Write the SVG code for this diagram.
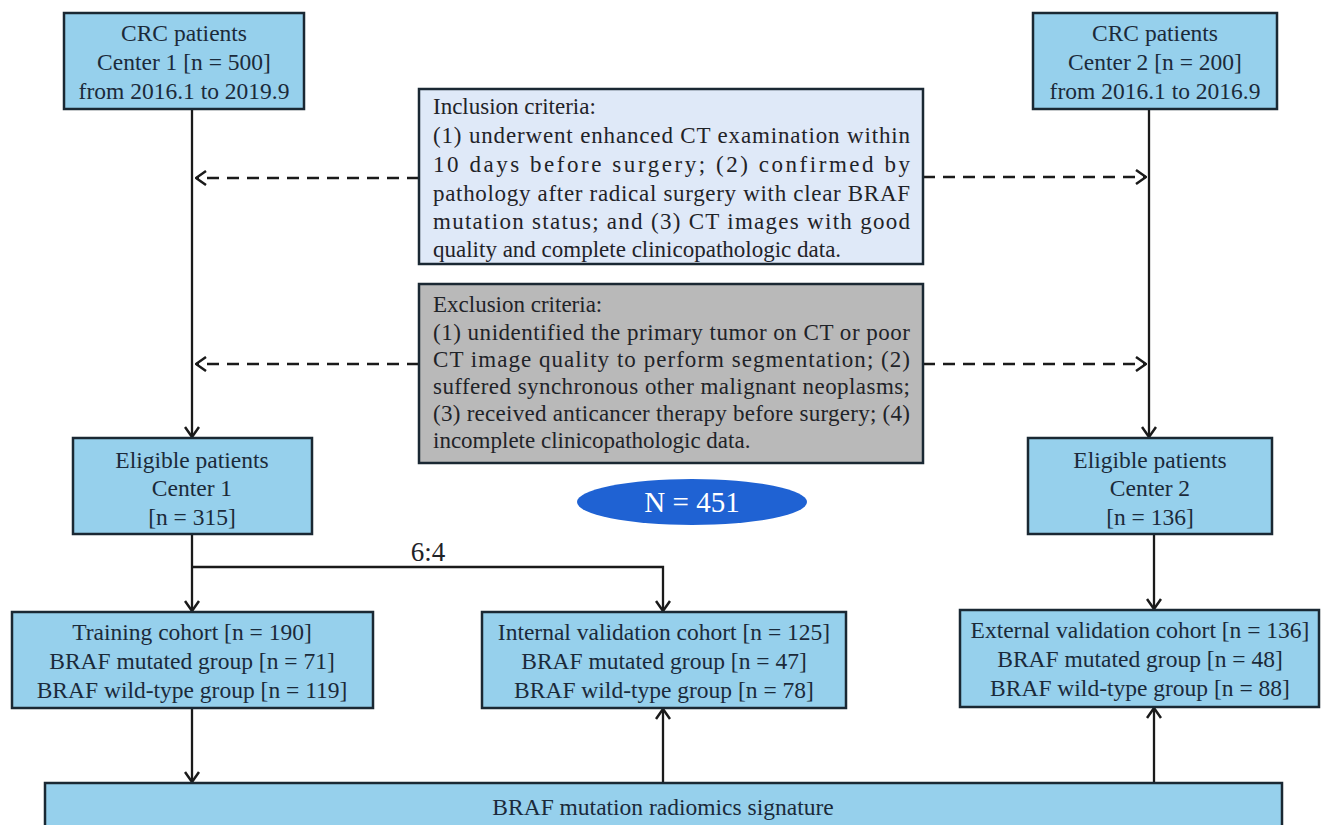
<svg xmlns="http://www.w3.org/2000/svg" width="1325" height="825" viewBox="0 0 1325 825">
<defs>
<marker id="arr" viewBox="0 0 12 16" refX="11" refY="8" markerWidth="12" markerHeight="16" markerUnits="userSpaceOnUse" orient="auto">
<path d="M1,1 L11,8 L1,15" fill="none" stroke="#1a1a1a" stroke-width="2.5"/>
</marker>
<style>
.box{fill:#96d0ec;stroke:#1a2833;stroke-width:2.5}
.inc{fill:#dfe9f8;stroke:#1a2833;stroke-width:2.5}
.exc{fill:#b9b9b9;stroke:#1a2833;stroke-width:2.5}
.t{font-family:"Liberation Serif","Times New Roman",serif;font-size:23.5px;fill:#1b2a3a;text-anchor:middle}
.l{font-family:"Liberation Serif","Times New Roman",serif;font-size:23px;fill:#1f2328}
.ln{fill:none;stroke:#1a1a1a;stroke-width:2.3}
.dl{fill:none;stroke:#1a1a1a;stroke-width:2.6;stroke-dasharray:12 8}
</style>
</defs>
<rect width="1325" height="825" fill="#ffffff"/>
<g id="connectors">
<line class="ln" x1="192" y1="109" x2="192" y2="437" marker-end="url(#arr)"/>
<line class="ln" x1="1149" y1="109" x2="1149" y2="437" marker-end="url(#arr)"/>
<line class="dl" x1="419" y1="178" x2="196" y2="178" marker-end="url(#arr)"/>
<line class="dl" x1="923" y1="177" x2="1146" y2="177" marker-end="url(#arr)"/>
<line class="dl" x1="419" y1="364" x2="196" y2="364" marker-end="url(#arr)"/>
<line class="dl" x1="923" y1="364" x2="1146" y2="364" marker-end="url(#arr)"/>
<line class="ln" x1="192" y1="534" x2="192" y2="611" marker-end="url(#arr)"/>
<polyline class="ln" points="192,567 663,567 663,611" marker-end="url(#arr)"/>
<line class="ln" x1="1154" y1="534" x2="1154" y2="609" marker-end="url(#arr)"/>
<line class="ln" x1="192" y1="708" x2="192" y2="782" marker-end="url(#arr)"/>
<line class="ln" x1="663" y1="783" x2="663" y2="709" marker-end="url(#arr)"/>
<line class="ln" x1="1154" y1="783" x2="1154" y2="708" marker-end="url(#arr)"/>
<text x="428" y="561" font-family="Liberation Serif, Times New Roman, serif" font-size="27" fill="#1f2328" text-anchor="middle">6:4</text>
</g>
<g id="crc1">
<rect class="box" x="64" y="13" width="240" height="96"/>
<text class="t" x="184" y="41">CRC patients</text>
<text class="t" x="184" y="70">Center 1 [n = 500]</text>
<text class="t" x="184" y="99">from 2016.1 to 2019.9</text>
</g>
<g id="crc2">
<rect class="box" x="1033" y="13" width="244" height="96"/>
<text class="t" x="1155" y="41">CRC patients</text>
<text class="t" x="1155" y="70">Center 2 [n = 200]</text>
<text class="t" x="1155" y="99">from 2016.1 to 2016.9</text>
</g>
<g id="inclusion">
<rect class="inc" x="419" y="89" width="504" height="175"/>
<text class="l" x="433" y="114">Inclusion criteria:</text>
<text class="l" x="433" y="143" textLength="477" lengthAdjust="spacing">(1) underwent enhanced CT examination within</text>
<text class="l" x="433" y="172" textLength="477" lengthAdjust="spacing">10 days before surgery; (2) confirmed by</text>
<text class="l" x="433" y="201" textLength="477" lengthAdjust="spacing">pathology after radical surgery with clear BRAF</text>
<text class="l" x="433" y="229" textLength="477" lengthAdjust="spacing">mutation status; and (3) CT images with good</text>
<text class="l" x="433" y="257">quality and complete clinicopathologic data.</text>
</g>
<g id="exclusion">
<rect class="exc" x="419" y="284" width="504" height="179"/>
<text class="l" x="433" y="312">Exclusion criteria:</text>
<text class="l" x="433" y="340" textLength="477" lengthAdjust="spacing">(1) unidentified the primary tumor on CT or poor</text>
<text class="l" x="433" y="367" textLength="477" lengthAdjust="spacing">CT image quality to perform segmentation; (2)</text>
<text class="l" x="433" y="394" textLength="477" lengthAdjust="spacing">suffered synchronous other malignant neoplasms;</text>
<text class="l" x="433" y="421" textLength="477" lengthAdjust="spacing">(3) received anticancer therapy before surgery; (4)</text>
<text class="l" x="433" y="448">incomplete clinicopathologic data.</text>
</g>
<g id="total">
<ellipse cx="692" cy="502" rx="115" ry="23" fill="#1f62d3"/>
<text x="692" y="512" font-family="Liberation Serif, Times New Roman, serif" font-size="29" fill="#ffffff" text-anchor="middle">N = 451</text>
</g>
<g id="eligible1">
<rect class="box" x="73" y="438" width="239" height="96"/>
<text class="t" x="192" y="468">Eligible patients</text>
<text class="t" x="192" y="496">Center 1</text>
<text class="t" x="192" y="525">[n = 315]</text>
</g>
<g id="eligible2">
<rect class="box" x="1028" y="438" width="244" height="96"/>
<text class="t" x="1150" y="468">Eligible patients</text>
<text class="t" x="1150" y="496">Center 2</text>
<text class="t" x="1150" y="525">[n = 136]</text>
</g>
<g id="training">
<rect class="box" x="12" y="612" width="361" height="96"/>
<text class="t" x="192" y="640">Training cohort [n = 190]</text>
<text class="t" x="192" y="669">BRAF mutated group [n = 71]</text>
<text class="t" x="192" y="698">BRAF wild-type group [n = 119]</text>
</g>
<g id="internal">
<rect class="box" x="482" y="612" width="364" height="96"/>
<text class="t" x="664" y="640">Internal validation cohort [n = 125]</text>
<text class="t" x="664" y="669">BRAF mutated group [n = 47]</text>
<text class="t" x="664" y="698">BRAF wild-type group [n = 78]</text>
</g>
<g id="external">
<rect class="box" x="960" y="610" width="359" height="97"/>
<text class="t" x="1140" y="638">External validation cohort [n = 136]</text>
<text class="t" x="1140" y="667">BRAF mutated group [n = 48]</text>
<text class="t" x="1140" y="696">BRAF wild-type group [n = 88]</text>
</g>
<g id="signature">
<rect class="box" x="45" y="783" width="1237" height="60"/>
<text class="t" x="663" y="815">BRAF mutation radiomics signature</text>
</g>
</svg>
